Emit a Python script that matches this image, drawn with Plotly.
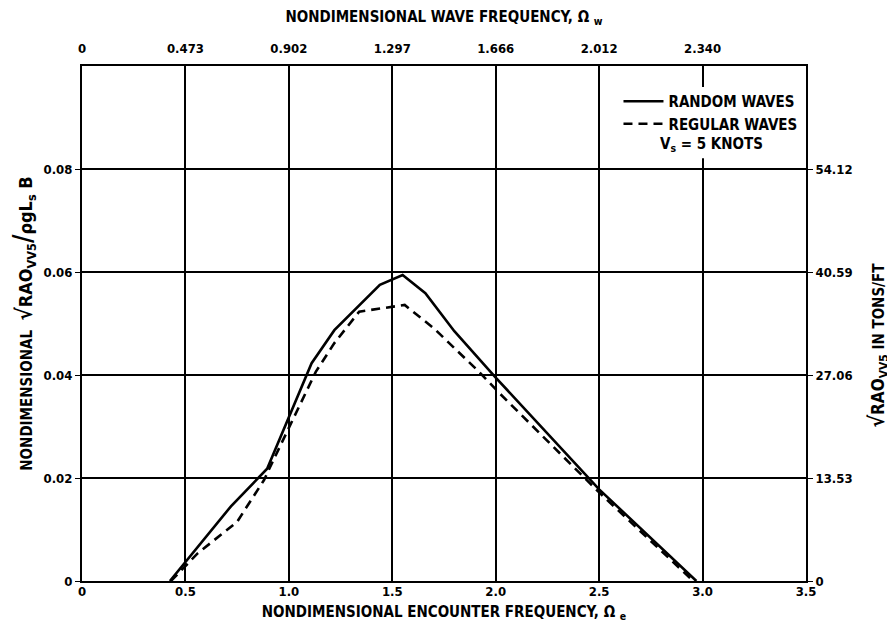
import plotly.graph_objects as go

# ---- data ----
enc_ticks = [0, 0.5, 1.0, 1.5, 2.0, 2.5, 3.0, 3.5]
enc_tick_text = ["0", "0.5", "1.0", "1.5", "2.0", "2.5", "3.0", "3.5"]
wave_tick_pos = [0, 0.5, 1.0, 1.5, 2.0, 2.5, 3.0]
wave_tick_text = ["0", "0.473", "0.902", "1.297", "1.666", "2.012", "2.340"]
left_ticks = [0, 0.02, 0.04, 0.06, 0.08]
left_tick_text = ["0", "0.02", "0.04", "0.06", "0.08"]
right_ticks = [0, 13.53, 27.06, 40.59, 54.12]
right_tick_text = ["0", "13.53", "27.06", "40.59", "54.12"]
dim_scale = 676.5  # tons/ft per nondimensional unit

random_x = [0.425, 0.72, 0.895, 1.0, 1.11, 1.22, 1.44, 1.55, 1.66, 1.80, 2.00, 2.50, 2.97]
random_y = [0.0, 0.0145, 0.0218, 0.0318, 0.0423, 0.0487, 0.0575, 0.0594, 0.0559, 0.0485, 0.0395, 0.0178, 0.0]

regular_x = [0.43, 0.56, 0.75, 0.88, 0.91, 1.01, 1.13, 1.22, 1.34, 1.56, 1.70, 1.92, 2.02, 2.50, 2.955]
regular_y = [0.0, 0.0054, 0.0115, 0.0196, 0.0222, 0.0306, 0.0406, 0.0462, 0.0523, 0.0536, 0.0491, 0.0406, 0.0364, 0.0172, 0.0]

FONT = "DejaVu Sans Condensed, DejaVu Sans, sans-serif"
TICK = dict(family=FONT, size=13, color="black", weight="bold")
TITLE = dict(family=FONT, size=15, color="black", weight="bold")

fig = go.Figure()
fig.add_trace(go.Scatter(x=random_x, y=random_y, mode="lines", name="RANDOM WAVES",
                         line=dict(color="black", width=2.6)))
fig.add_trace(go.Scatter(x=regular_x, y=regular_y, mode="lines", name="REGULAR WAVES",
                         line=dict(color="black", width=2.6, dash="9px,6px")))
# invisible trace to activate the top and right axes
fig.add_trace(go.Scatter(x=[0], y=[0], xaxis="x2", yaxis="y2", mode="markers",
                         marker=dict(opacity=0), showlegend=False, hoverinfo="skip"))

left_title = ("NONDIMENSIONAL  <span style='font-size:18px'><span style='font-size:22px'>√</span>RAO<sub>VV5</sub>"
              "<span style='font-size:26px'>/</span>ρgL<sub>s</sub> B</span>")
right_title = ("<span style='font-size:21px'>√</span><span style='font-size:17px'>RAO<sub>VV5</sub></span>"
               " IN TONS/FT")

fig.update_layout(
    width=887, height=624,
    margin=dict(l=74, r=89, t=58, b=51),
    paper_bgcolor="white", plot_bgcolor="white",
    font=dict(family=FONT, size=14, color="black", weight="bold"),
    showlegend=True,
    legend=dict(x=0.741, y=0.963, xanchor="left", yanchor="top",
                bgcolor="rgba(0,0,0,0)", borderwidth=0,
                font=TITLE, itemwidth=40, tracegroupgap=0),
    xaxis=dict(range=[0, 3.5], tickvals=enc_ticks, ticktext=enc_tick_text,
               tickfont=TICK, automargin=False, ticklabelstandoff=-3,
               showgrid=True, gridcolor="black", gridwidth=1.6,
               showline=True, linecolor="black", linewidth=2, mirror=True,
               ticks="", zeroline=False,
               title=dict(text="NONDIMENSIONAL ENCOUNTER FREQUENCY, Ω <sub>e</sub>", standoff=9,
                          font=TITLE)),
    xaxis2=dict(range=[0, 3.5], overlaying="x", side="top", anchor="y",
                tickvals=wave_tick_pos, ticktext=wave_tick_text,
                tickfont=TICK, automargin=False, ticklabelstandoff=9,
                showgrid=False, ticks="", zeroline=False, showline=False,
                title=dict(text="NONDIMENSIONAL WAVE FREQUENCY, Ω <sub>w</sub>", standoff=17,
                           font=TITLE)),
    yaxis=dict(range=[0, 0.1], tickvals=left_ticks, ticktext=left_tick_text,
               tickfont=TICK, automargin=False,
               showgrid=True, gridcolor="black", gridwidth=1.6,
               showline=True, linecolor="black", linewidth=2, mirror=True,
               ticks="outside", ticklen=5, tickcolor="black", zeroline=False,
               title=dict(text=left_title, standoff=23, font=TITLE)),
    yaxis2=dict(range=[0, 0.1 * dim_scale], overlaying="y", side="right", anchor="x",
                tickvals=right_ticks, ticktext=right_tick_text,
                tickfont=TICK, automargin=False,
                showgrid=False, zeroline=False, showline=False,
                ticks="outside", ticklen=6, tickcolor="black"),
    shapes=[dict(type="rect", xref="paper", yref="paper",
                 x0=0.722, x1=0.995, y0=0.821, y1=0.959,
                 fillcolor="white", line=dict(width=0), layer="above")],
    annotations=[
        dict(text="V<sub>s</sub> = 5 KNOTS", xref="paper", yref="paper",
             x=0.869, y=0.848, xanchor="center", yanchor="middle",
             showarrow=False, font=TITLE),
        dict(text=right_title, xref="paper", yref="paper",
             x=1.1, y=0.458, xanchor="center", yanchor="middle", textangle=-90,
             showarrow=False, font=TITLE),
    ],
)

fig.write_html("out.html")
